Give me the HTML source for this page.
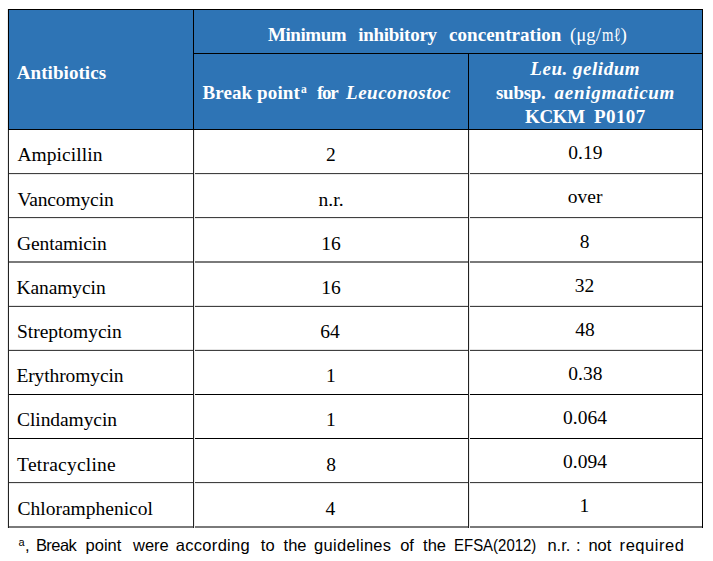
<!DOCTYPE html>
<html><head><meta charset="utf-8">
<style>
html,body{margin:0;padding:0;background:#fff;}
body{width:713px;height:561px;position:relative;overflow:hidden;font-family:"Liberation Serif",serif;color:#000;}
.t{position:absolute;white-space:pre;line-height:24px;}
.w{color:#fff;}
.sr{font-family:"Liberation Serif",serif;}
.sb{font-family:"Liberation Serif",serif;font-weight:bold;}
.sbi{font-family:"Liberation Serif",serif;font-weight:bold;font-style:italic;}
.ss{font-family:"Liberation Sans",sans-serif;}
svg{position:absolute;left:0;top:0;}
</style></head><body>
<svg width="713" height="561" viewBox="0 0 713 561" shape-rendering="crispEdges">
<rect x="8" y="9" width="695" height="120" fill="#2E74B5"/>
<rect x="8" y="9" width="695" height="1" fill="#000"/>
<rect x="193" y="53" width="510" height="1" fill="#000"/>
<rect x="8" y="129" width="695" height="1" fill="#000"/>
<rect x="8" y="173" width="695" height="1" fill="#404040"/>
<rect x="8" y="174" width="695" height="1" fill="#eaeaea"/>
<rect x="8" y="217" width="695" height="1" fill="#404040"/>
<rect x="8" y="218" width="695" height="1" fill="#eaeaea"/>
<rect x="8" y="482" width="695" height="1" fill="#404040"/>
<rect x="8" y="483" width="695" height="1" fill="#eaeaea"/>
<rect x="8" y="306" width="695" height="1" fill="#404040"/>
<rect x="8" y="305" width="695" height="1" fill="#e4e4e4"/>
<rect x="8" y="350" width="695" height="1" fill="#404040"/>
<rect x="8" y="349" width="695" height="1" fill="#e4e4e4"/>
<rect x="8" y="394" width="695" height="1" fill="#000"/>
<rect x="8" y="438" width="695" height="1" fill="#000"/>
<rect x="8" y="261" width="695" height="1" fill="#7a7a7a"/>
<rect x="8" y="262" width="695" height="1" fill="#7a7a7a"/>
<rect x="8" y="526" width="695" height="1" fill="#7a7a7a"/>
<rect x="8" y="527" width="695" height="1" fill="#7a7a7a"/>
<rect x="7" y="9" width="1" height="519" fill="#ececec"/>
<rect x="194" y="130" width="1" height="398" fill="#ececec"/>
<rect x="469" y="130" width="1" height="398" fill="#ececec"/>
<rect x="8" y="130" width="1" height="398" fill="#222"/>
<rect x="193" y="130" width="1" height="398" fill="#222"/>
<rect x="468" y="130" width="1" height="398" fill="#222"/>
<rect x="702" y="9" width="1" height="519" fill="#000"/>
<rect x="8" y="9" width="1" height="121" fill="#000"/>
<rect x="193" y="9" width="1" height="121" fill="#000"/>
<rect x="468" y="53" width="1" height="77" fill="#000"/>
</svg>
<div id="i0" class="t sb w" style="left:16.80px;top:61px;font-size:19.0px;letter-spacing:0.060px;">Antibiotics<span class="bm" style="display:inline-block;width:0;height:0;vertical-align:baseline"></span></div>
<div id="i1" class="t sb w" style="left:268.10px;top:23px;font-size:19.0px;letter-spacing:-0.467px;">Minimum<span class="bm" style="display:inline-block;width:0;height:0;vertical-align:baseline"></span></div>
<div id="i2" class="t sb w" style="left:358.20px;top:23px;font-size:19.0px;letter-spacing:-0.267px;">inhibitory<span class="bm" style="display:inline-block;width:0;height:0;vertical-align:baseline"></span></div>
<div id="i3" class="t sb w" style="left:449.10px;top:23px;font-size:19.0px;letter-spacing:0.033px;">concentration<span class="bm" style="display:inline-block;width:0;height:0;vertical-align:baseline"></span></div>
<div id="i4" class="t sr w" style="left:570.30px;top:23px;font-size:19.0px;transform:scaleX(0.9877);transform-origin:0 0;">(μg/<span class="bm" style="display:inline-block;width:0;height:0;vertical-align:baseline"></span></div>
<div id="i5" class="t sr w" style="left:601.50px;top:23px;font-size:19.0px;transform:scaleX(0.7736);transform-origin:0 0;">mℓ<span class="bm" style="display:inline-block;width:0;height:0;vertical-align:baseline"></span></div>
<div id="i6" class="t sr w" style="left:620.40px;top:23px;font-size:19.0px;">)<span class="bm" style="display:inline-block;width:0;height:0;vertical-align:baseline"></span></div>
<div id="i7" class="t sb w" style="left:202.50px;top:81px;font-size:19.0px;letter-spacing:0.100px;">Break point<span class="bm" style="display:inline-block;width:0;height:0;vertical-align:baseline"></span></div>
<div id="i8" class="t sb w" style="left:317.10px;top:81px;font-size:19.0px;letter-spacing:-1.300px;">for<span class="bm" style="display:inline-block;width:0;height:0;vertical-align:baseline"></span></div>
<div id="i9" class="t sb w" style="left:301.00px;top:77px;font-size:11.5px;">a<span class="bm" style="display:inline-block;width:0;height:0;vertical-align:baseline"></span></div>
<div id="i10" class="t sbi w" style="left:346.00px;top:81px;font-size:19.0px;letter-spacing:0.520px;">Leuconostoc<span class="bm" style="display:inline-block;width:0;height:0;vertical-align:baseline"></span></div>
<div id="i11" class="t sbi w" style="left:530.30px;top:57px;font-size:19.0px;letter-spacing:0.527px;">Leu. gelidum<span class="bm" style="display:inline-block;width:0;height:0;vertical-align:baseline"></span></div>
<div id="i12" class="t sb w" style="left:496.00px;top:81px;font-size:19.0px;letter-spacing:-0.280px;">subsp.<span class="bm" style="display:inline-block;width:0;height:0;vertical-align:baseline"></span></div>
<div id="i13" class="t sbi w" style="left:554.50px;top:81px;font-size:19.0px;letter-spacing:0.727px;">aenigmaticum<span class="bm" style="display:inline-block;width:0;height:0;vertical-align:baseline"></span></div>
<div id="i14" class="t sb w" style="left:525.10px;top:105px;font-size:19.0px;letter-spacing:-0.400px;">KCKM<span class="bm" style="display:inline-block;width:0;height:0;vertical-align:baseline"></span></div>
<div id="i15" class="t sb w" style="left:594.00px;top:105px;font-size:19.0px;letter-spacing:0.400px;">P0107<span class="bm" style="display:inline-block;width:0;height:0;vertical-align:baseline"></span></div>
<div id="i16" class="t sr" style="left:17.40px;top:143px;font-size:19.5px;letter-spacing:0.067px;">Ampicillin<span class="bm" style="display:inline-block;width:0;height:0;vertical-align:baseline"></span></div>
<div id="i17" class="t sr" style="left:17.40px;top:188px;font-size:19.5px;letter-spacing:-0.133px;">Vancomycin<span class="bm" style="display:inline-block;width:0;height:0;vertical-align:baseline"></span></div>
<div id="i18" class="t sr" style="left:17.10px;top:232px;font-size:19.5px;letter-spacing:-0.133px;">Gentamicin<span class="bm" style="display:inline-block;width:0;height:0;vertical-align:baseline"></span></div>
<div id="i19" class="t sr" style="left:16.40px;top:276px;font-size:19.5px;letter-spacing:-0.075px;">Kanamycin<span class="bm" style="display:inline-block;width:0;height:0;vertical-align:baseline"></span></div>
<div id="i20" class="t sr" style="left:17.00px;top:320px;font-size:19.5px;letter-spacing:-0.036px;">Streptomycin<span class="bm" style="display:inline-block;width:0;height:0;vertical-align:baseline"></span></div>
<div id="i21" class="t sr" style="left:16.40px;top:364px;font-size:19.5px;letter-spacing:-0.109px;">Erythromycin<span class="bm" style="display:inline-block;width:0;height:0;vertical-align:baseline"></span></div>
<div id="i22" class="t sr" style="left:17.10px;top:408px;font-size:19.5px;letter-spacing:-0.080px;">Clindamycin<span class="bm" style="display:inline-block;width:0;height:0;vertical-align:baseline"></span></div>
<div id="i23" class="t sr" style="left:17.10px;top:453px;font-size:19.5px;letter-spacing:0.236px;">Tetracycline<span class="bm" style="display:inline-block;width:0;height:0;vertical-align:baseline"></span></div>
<div id="i24" class="t sr" style="left:17.50px;top:497px;font-size:19.5px;">Chloramphenicol<span class="bm" style="display:inline-block;width:0;height:0;vertical-align:baseline"></span></div>
<div id="i25" class="t sr" style="left:326.00px;top:143px;font-size:19.5px;">2<span class="bm" style="display:inline-block;width:0;height:0;vertical-align:baseline"></span></div>
<div id="i26" class="t sr" style="left:318.60px;top:188px;font-size:19.5px;">n.r.<span class="bm" style="display:inline-block;width:0;height:0;vertical-align:baseline"></span></div>
<div id="i27" class="t sr" style="left:321.30px;top:232px;font-size:19.5px;">16<span class="bm" style="display:inline-block;width:0;height:0;vertical-align:baseline"></span></div>
<div id="i28" class="t sr" style="left:321.30px;top:276px;font-size:19.5px;">16<span class="bm" style="display:inline-block;width:0;height:0;vertical-align:baseline"></span></div>
<div id="i29" class="t sr" style="left:320.30px;top:320px;font-size:19.5px;">64<span class="bm" style="display:inline-block;width:0;height:0;vertical-align:baseline"></span></div>
<div id="i30" class="t sr" style="left:326.00px;top:364px;font-size:19.5px;">1<span class="bm" style="display:inline-block;width:0;height:0;vertical-align:baseline"></span></div>
<div id="i31" class="t sr" style="left:326.00px;top:408px;font-size:19.5px;">1<span class="bm" style="display:inline-block;width:0;height:0;vertical-align:baseline"></span></div>
<div id="i32" class="t sr" style="left:326.30px;top:453px;font-size:19.5px;">8<span class="bm" style="display:inline-block;width:0;height:0;vertical-align:baseline"></span></div>
<div id="i33" class="t sr" style="left:325.60px;top:497px;font-size:19.5px;">4<span class="bm" style="display:inline-block;width:0;height:0;vertical-align:baseline"></span></div>
<div id="i34" class="t sr" style="left:568.30px;top:141px;font-size:19.5px;">0.19<span class="bm" style="display:inline-block;width:0;height:0;vertical-align:baseline"></span></div>
<div id="i35" class="t sr" style="left:567.80px;top:185px;font-size:19.5px;">over<span class="bm" style="display:inline-block;width:0;height:0;vertical-align:baseline"></span></div>
<div id="i36" class="t sr" style="left:579.80px;top:230px;font-size:19.5px;">8<span class="bm" style="display:inline-block;width:0;height:0;vertical-align:baseline"></span></div>
<div id="i37" class="t sr" style="left:574.80px;top:274px;font-size:19.5px;">32<span class="bm" style="display:inline-block;width:0;height:0;vertical-align:baseline"></span></div>
<div id="i38" class="t sr" style="left:575.20px;top:318px;font-size:19.5px;">48<span class="bm" style="display:inline-block;width:0;height:0;vertical-align:baseline"></span></div>
<div id="i39" class="t sr" style="left:568.30px;top:362px;font-size:19.5px;">0.38<span class="bm" style="display:inline-block;width:0;height:0;vertical-align:baseline"></span></div>
<div id="i40" class="t sr" style="left:563.00px;top:406px;font-size:19.5px;">0.064<span class="bm" style="display:inline-block;width:0;height:0;vertical-align:baseline"></span></div>
<div id="i41" class="t sr" style="left:563.00px;top:450px;font-size:19.5px;">0.094<span class="bm" style="display:inline-block;width:0;height:0;vertical-align:baseline"></span></div>
<div id="i42" class="t sr" style="left:579.50px;top:494px;font-size:19.5px;">1<span class="bm" style="display:inline-block;width:0;height:0;vertical-align:baseline"></span></div>
<div id="i43" class="t ss" style="left:18.50px;top:530px;font-size:11px;">a<span class="bm" style="display:inline-block;width:0;height:0;vertical-align:baseline"></span></div>
<div id="i44" class="t ss" style="left:25.10px;top:533px;font-size:16.5px;">,<span class="bm" style="display:inline-block;width:0;height:0;vertical-align:baseline"></span></div>
<div id="i45" class="t ss" style="left:35.90px;top:533px;font-size:16.5px;letter-spacing:-0.550px;">Break<span class="bm" style="display:inline-block;width:0;height:0;vertical-align:baseline"></span></div>
<div id="i46" class="t ss" style="left:85.60px;top:533px;font-size:16.5px;">point<span class="bm" style="display:inline-block;width:0;height:0;vertical-align:baseline"></span></div>
<div id="i47" class="t ss" style="left:133.00px;top:533px;font-size:16.5px;">were<span class="bm" style="display:inline-block;width:0;height:0;vertical-align:baseline"></span></div>
<div id="i48" class="t ss" style="left:175.80px;top:533px;font-size:16.5px;letter-spacing:0.300px;">according<span class="bm" style="display:inline-block;width:0;height:0;vertical-align:baseline"></span></div>
<div id="i49" class="t ss" style="left:260.80px;top:533px;font-size:16.5px;">to<span class="bm" style="display:inline-block;width:0;height:0;vertical-align:baseline"></span></div>
<div id="i50" class="t ss" style="left:283.60px;top:533px;font-size:16.5px;">the<span class="bm" style="display:inline-block;width:0;height:0;vertical-align:baseline"></span></div>
<div id="i51" class="t ss" style="left:314.00px;top:533px;font-size:16.5px;letter-spacing:0.311px;">guidelines<span class="bm" style="display:inline-block;width:0;height:0;vertical-align:baseline"></span></div>
<div id="i52" class="t ss" style="left:400.20px;top:533px;font-size:16.5px;">of<span class="bm" style="display:inline-block;width:0;height:0;vertical-align:baseline"></span></div>
<div id="i53" class="t ss" style="left:423.10px;top:533px;font-size:16.5px;">the<span class="bm" style="display:inline-block;width:0;height:0;vertical-align:baseline"></span></div>
<div id="i54" class="t ss" style="left:453.70px;top:533px;font-size:16.5px;transform:scaleX(0.9071);transform-origin:0 0;">EFSA(2012)<span class="bm" style="display:inline-block;width:0;height:0;vertical-align:baseline"></span></div>
<div id="i55" class="t ss" style="left:547.40px;top:533px;font-size:16.5px;">n.r.<span class="bm" style="display:inline-block;width:0;height:0;vertical-align:baseline"></span></div>
<div id="i56" class="t ss" style="left:576.00px;top:533px;font-size:16.5px;">:<span class="bm" style="display:inline-block;width:0;height:0;vertical-align:baseline"></span></div>
<div id="i57" class="t ss" style="left:588.40px;top:533px;font-size:16.5px;">not<span class="bm" style="display:inline-block;width:0;height:0;vertical-align:baseline"></span></div>
<div id="i58" class="t ss" style="left:619.60px;top:533px;font-size:16.5px;letter-spacing:0.543px;">required<span class="bm" style="display:inline-block;width:0;height:0;vertical-align:baseline"></span></div>
</body></html>
